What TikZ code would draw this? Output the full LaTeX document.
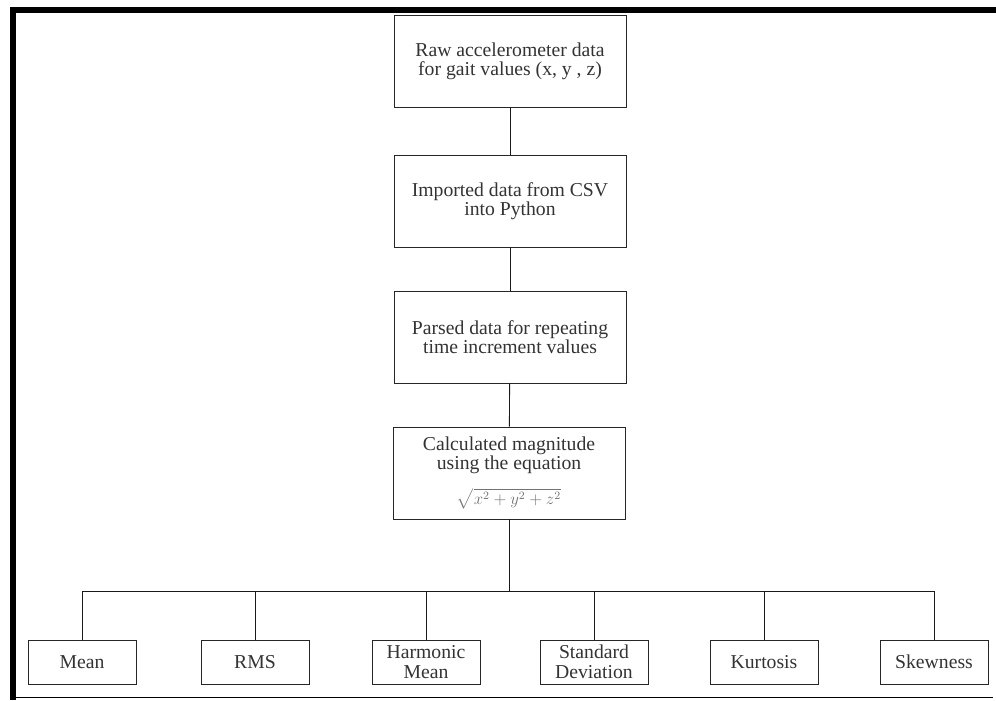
\documentclass[tikz,border=0pt]{standalone}
\usepackage{fontspec}
\setmainfont{Liberation Serif}
\usepackage{amsmath}
\usetikzlibrary{positioning}
\tikzset{
  stepbox/.style={draw=black!85, line width=0.6pt, text=black!80, align=center,
    minimum width=5.8cm, minimum height=2.3cm, font=\fontsize{14}{13.5}\selectfont},
  statbox/.style={draw=black!85, line width=0.6pt, text=black!80, align=center,
    minimum width=2.7cm, minimum height=1.1cm, font=\fontsize{14}{14}\selectfont},
  link/.style={draw=black!90, line width=0.6pt}
}
\begin{document}
\begin{tikzpicture}[x=0.025cm, y=-0.025cm]
            \useasboundingbox (0,0) rectangle (996,700);
            % frame
            \fill (10,7) rectangle (16,700);
            \fill (10,7) rectangle (996,13);
            \draw[line width=0.7pt] (16,697.5) -- (993,697.5);

            \node[stepbox] (raw) at (510, 61) {Raw accelerometer data\\for gait values (x, y , z)};
            \node[stepbox] (import) at (510, 201) {Imported data from CSV\\into Python};
            \node[stepbox] (parse) at (510, 337) {Parsed data for repeating\\time increment values};
            \node[stepbox] (magn) at (509, 473) {Calculated magnitude\\using the equation\\[9pt]
                {\color{black!55}\fontsize{12}{12}\selectfont$\sqrt{x^2 + y^2 + z^2}$}};

            \node[statbox] (mean) at (82, 662) {Mean};
            \node[statbox] (rms) at (255, 662) {RMS};
            \node[statbox] (harm) at (426, 662) {Harmonic\\Mean};
            \node[statbox] (std) at (594, 662) {Standard\\Deviation};
            \node[statbox] (kurt) at (764, 662) {Kurtosis};
            \node[statbox] (skew) at (934, 662) {Skewness};

            \draw[link] (raw) -- (import);
            \draw[link] (import) -- (parse);
            \draw[link] (parse) -- (magn);

            % bus to the statistics
            \coordinate (bus) at (509, 591);
            \draw[link] (magn) -- (bus);
            \draw[link] (mean.north |- bus) -- (skew.north |- bus);
            \foreach \s in {mean, rms, harm, std, kurt, skew}
                \draw[link] (\s.north) -- (\s.north |- bus);

        \end{tikzpicture}
\end{document}
